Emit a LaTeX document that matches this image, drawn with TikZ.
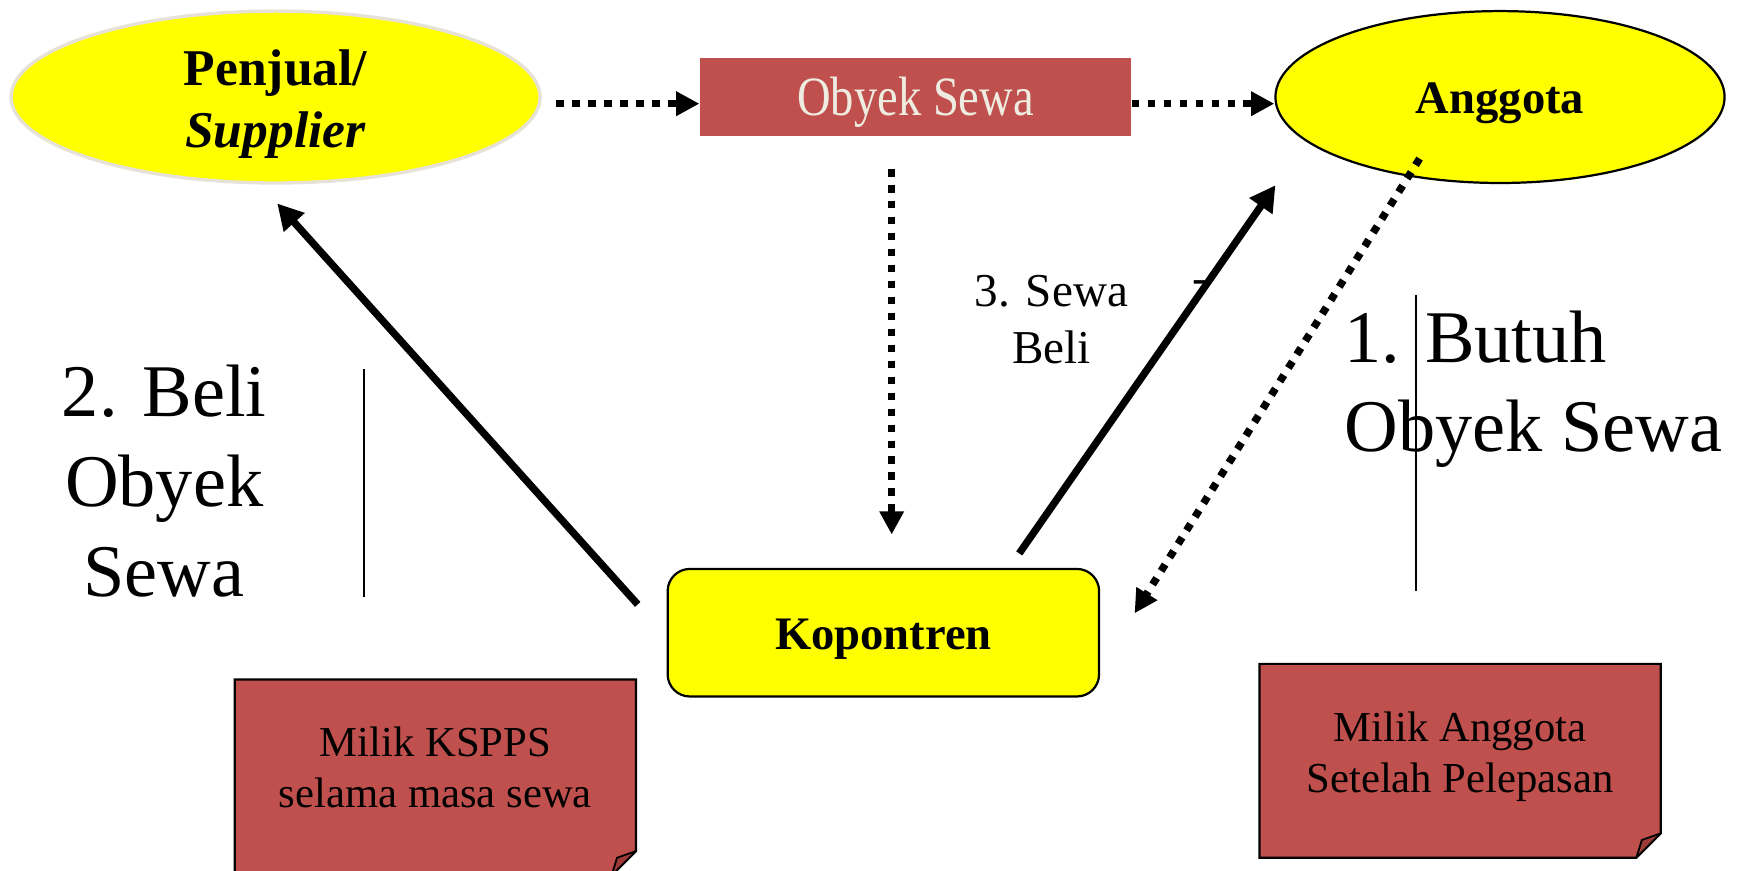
\documentclass[tikz,border=0pt]{standalone}
\usepackage{fontspec}
\setmainfont{Liberation Serif}
\newfontfamily\narrowserif{Liberation Serif}[FakeStretch=0.84]
\usetikzlibrary{arrows.meta,shapes.geometric,calc}

\definecolor{boxred}{HTML}{C0504D}
\definecolor{cream}{HTML}{EEECE1}
\definecolor{flapred}{HTML}{9E3B39}
\definecolor{rimgrey}{HTML}{E6E2D8}
\definecolor{yel}{HTML}{FFFF00}

% lower a line of text without changing the box it reports
\newcommand{\drop}[2]{\raisebox{-#1}[\height][\depth]{#2}}

\begin{document}
\begin{tikzpicture}[x=0.5pt,y=-0.5pt,
  party/.style={ellipse, fill=yel, inner sep=0pt, align=center,
    minimum height=77.5pt},
  dotarrow/.style={line width=3.4pt, dash pattern=on 3.4pt off 3.8pt,
    -{Triangle[length=10.5pt,width=10.5pt]}},
  solidarrow/.style={line width=3.3pt,
    -{Triangle[length=11.5pt,width=12pt]}},
  notebox/.style={rectangle, inner sep=0pt, minimum width=180.5pt},
  notetext/.style={align=center, inner sep=0pt,
    font=\fontsize{19.25}{23}\selectfont},
  bigtext/.style={inner sep=0pt, font=\fontsize{33.5}{40.5}\selectfont},
  guide/.style={line width=0.75pt}
]
\useasboundingbox (0,0) rectangle (1568,785);
\begin{scope}
\clip (0,0) rectangle (1568,785);

% parties and the leased object
\node[party, draw=rimgrey, line width=1.5pt, minimum width=238.5pt,
      font=\fontsize{23.25}{28}\selectfont\bfseries]
  (penjual) at (248.5,87.5) {\drop{3.25pt}{Penjual/}\\\drop{3.25pt}{\textit{Supplier}}};
\node[rectangle, fill=boxred, text=cream, minimum width=194.5pt,
      minimum height=35.5pt, inner sep=0pt,
      font=\narrowserif\fontsize{25}{30}\selectfont]
  (obyek) at (825.5,87.5) {\drop{2.5pt}{Obyek Sewa}};
\node[party, draw=black, line width=1pt, minimum width=202.5pt,
      font=\fontsize{21}{25}\selectfont\bfseries]
  (anggota) at (1352.5,87.5) {\drop{3pt}{Anggota}};
\node[rectangle, rounded corners=10pt, fill=yel, draw=black,
      line width=1pt, minimum width=194.5pt, minimum height=57.5pt,
      inner sep=0pt, font=\fontsize{21}{25}\selectfont\bfseries]
  (kopontren) at (796.5,570.5) {\drop{3pt}{Kopontren}};

% ownership notes with a folded corner
\node[notebox, minimum height=88pt] (ksppsbox) at (392.5,701) {};
\node[notebox, minimum height=87pt] (milikbox) at (1316.5,686) {};
\foreach \b in {ksppsbox,milikbox}{
  \draw[fill=boxred, line width=1pt, line join=miter]
    (\b.north west) -- (\b.north east) -- ([yshift=11pt]\b.south east)
    -- ([xshift=-11pt]\b.south east) -- (\b.south west) -- cycle;
  \draw[fill=flapred, line width=0.8pt, line join=round]
    ([xshift=-11pt]\b.south east) -- ([yshift=11pt]\b.south east)
    -- ([xshift=-8.5pt,yshift=8pt]\b.south east) -- cycle;
}
\node[notetext] (kspps) at (392.5,692) {Milik KSPPS\\selama masa sewa};
\node[notetext] (milik) at (1316.5,682) {Milik Anggota\\Setelah Pelepasan};

% step labels
\node[bigtext, align=center] (beli) at (148,434) {2. Beli\\Obyek\\Sewa};
\node[bigtext, align=left, anchor=west] (butuh) at (1212,351) {1. Butuh\\Obyek Sewa};
\node[inner sep=0pt, align=center, font=\fontsize{21.25}{25.5}\selectfont]
  (sewabeli) at (948,288) {3. Sewa\\Beli};
\node[inner sep=0pt, font=\fontsize{21.25}{25.5}\selectfont]
  (tick) at (1082,259) {-};

% thin guide lines beside the step labels
\coordinate (gla) at (328,333);
\coordinate (glb) at (328,538);
\coordinate (gra) at (1277,266);
\coordinate (grb) at (1277,533);
\draw[guide] (gla) -- (glb);
\draw[guide] (gra) -- (grb);

% flow of the object (dotted)
\draw[dotarrow] ([xshift=6.5pt,yshift=-3pt]penjual.east) -- ([yshift=-3pt]obyek.west);
\draw[dotarrow] ([yshift=-3pt]obyek.east) -- ([yshift=-3pt]anggota.west);
\draw[dotarrow] ([xshift=-10.75pt,yshift=-14.5pt]obyek.south)
  -- ([xshift=3.75pt,yshift=15pt]kopontren.north);
\draw[dotarrow] ([xshift=-36.25pt,yshift=-27.75pt]anggota.center)
  -- ([xshift=15.5pt,yshift=8.75pt]kopontren.east);

% transactions (solid)
\draw[solidarrow] ([xshift=-13pt,yshift=12.75pt]kopontren.west)
  -- ([xshift=0.75pt,yshift=-8.5pt]penjual.south);
\draw[solidarrow] ([xshift=-36.5pt,yshift=6.5pt]kopontren.north east)
  -- ([xshift=0.5pt,yshift=-39.75pt]anggota.west);
\end{scope}
\end{tikzpicture}
\end{document}
